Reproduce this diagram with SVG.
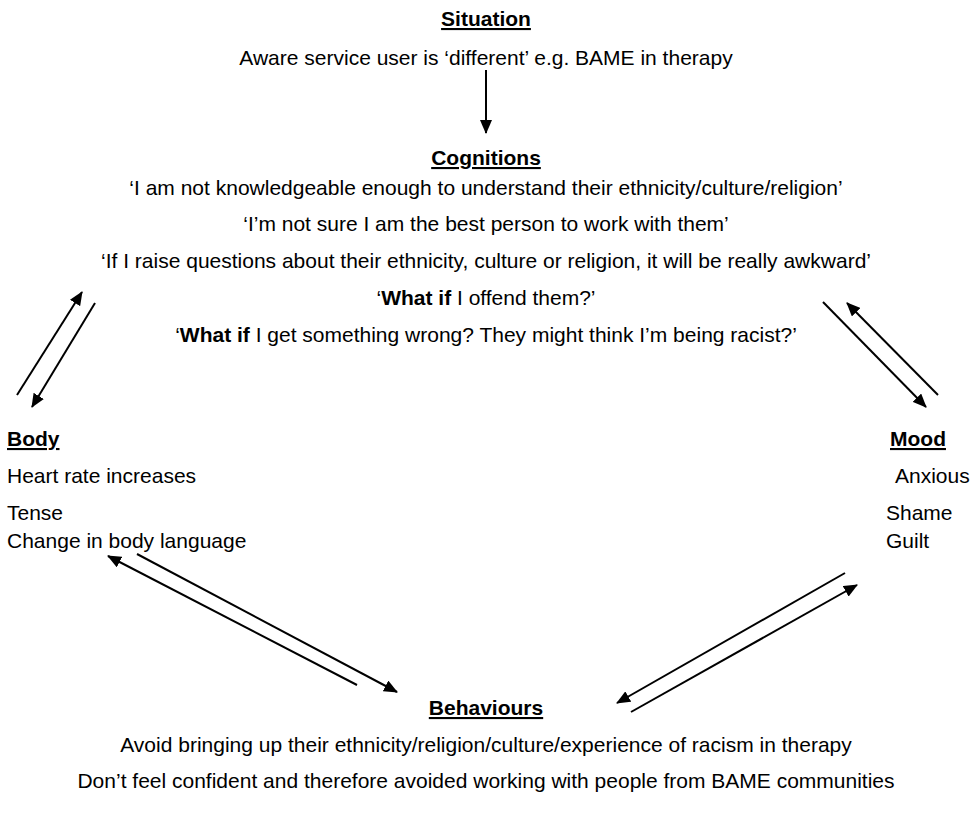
<svg xmlns="http://www.w3.org/2000/svg" width="972" height="824" viewBox="0 0 972 824">
<defs>
<style>
text{font-family:"Liberation Sans",Arial,sans-serif;font-size:21px;fill:#000}
.c{text-anchor:middle}
.h{font-weight:bold;text-decoration:underline}
.b{font-weight:bold}
.ln{stroke:#000;stroke-width:2;fill:none;marker-end:url(#ah)}
</style>
<marker id="ah" markerUnits="userSpaceOnUse" markerWidth="14" markerHeight="12" viewBox="0 0 14 12" refX="13" refY="6" orient="auto">
<path d="M0,0 L14,6 L0,12 Z" fill="#000"/>
</marker>
</defs>
<rect width="972" height="824" fill="#fff"/>
<g id="situation">
<text class="c h" x="486" y="26">Situation</text>
<text class="c" x="486" y="65">Aware service user is ‘different’ e.g. BAME in therapy</text>
</g>
<g id="cognitions">
<text class="c h" x="486" y="165">Cognitions</text>
<text class="c" x="486" y="195">‘I am not knowledgeable enough to understand their ethnicity/culture/religion’</text>
<text class="c" x="486" y="231">‘I’m not sure I am the best person to work with them’</text>
<text class="c" x="486" y="268">‘If I raise questions about their ethnicity, culture or religion, it will be really awkward’</text>
<text class="c" x="486" y="305">‘<tspan class="b">What if</tspan> I offend them?’</text>
<text class="c" x="486" y="342">‘<tspan class="b">What if</tspan> I get something wrong? They might think I’m being racist?’</text>
</g>
<g id="body">
<text class="h" x="7" y="446">Body</text>
<text x="7" y="483">Heart rate increases</text>
<text x="7" y="520">Tense</text>
<text x="7" y="548">Change in body language</text>
</g>
<g id="mood">
<text class="h" x="890" y="446">Mood</text>
<text x="895" y="483">Anxious</text>
<text x="886" y="520">Shame</text>
<text x="886" y="548">Guilt</text>
</g>
<g id="behaviours">
<text class="c h" x="486" y="715">Behaviours</text>
<text class="c" x="486" y="752">Avoid bringing up their ethnicity/religion/culture/experience of racism in therapy</text>
<text class="c" x="486" y="788">Don’t feel confident and therefore avoided working with people from BAME communities</text>
</g>
<g id="connectors">
<line class="ln" x1="486" y1="70" x2="486" y2="133"/>
<line class="ln" x1="17" y1="395" x2="82" y2="292"/>
<line class="ln" x1="95" y1="303" x2="32" y2="407"/>
<line class="ln" x1="823" y1="302" x2="926" y2="407"/>
<line class="ln" x1="938" y1="395" x2="847" y2="303"/>
<line class="ln" x1="357" y1="685" x2="108" y2="556"/>
<line class="ln" x1="137" y1="554" x2="397" y2="692"/>
<line class="ln" x1="845" y1="573" x2="617" y2="703"/>
<line class="ln" x1="631" y1="712" x2="857" y2="585"/>
</g>
</svg>
